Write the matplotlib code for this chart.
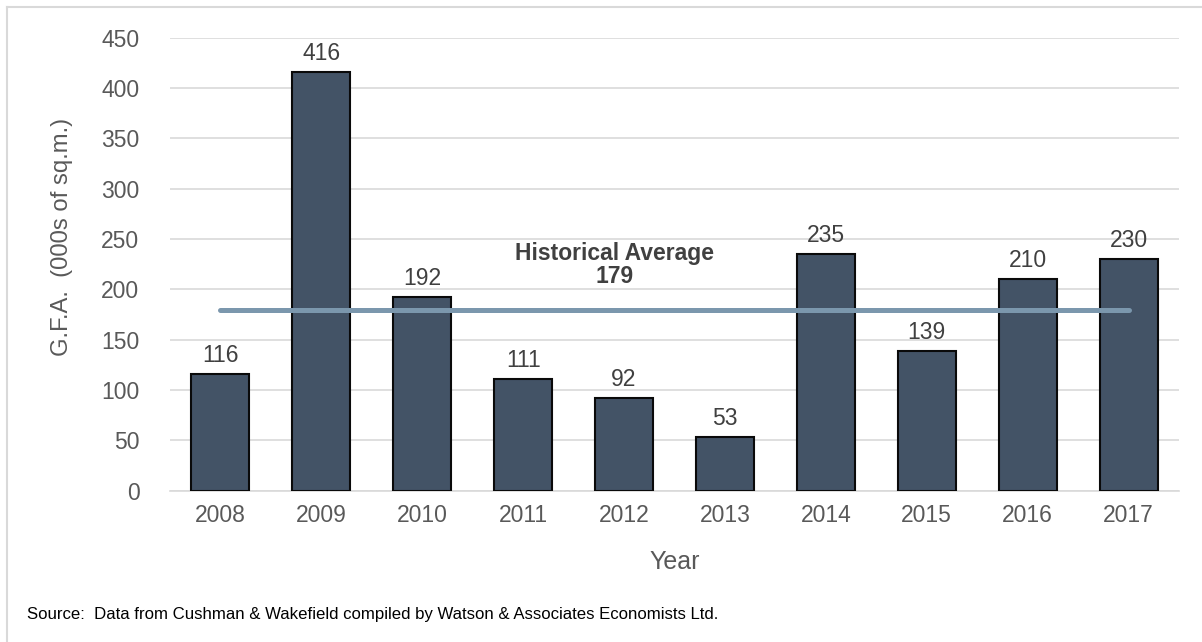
import matplotlib
matplotlib.use("Agg")
import matplotlib.pyplot as plt
from matplotlib.lines import Line2D

years = ["2008", "2009", "2010", "2011", "2012", "2013", "2014", "2015", "2016", "2017"]
values = [116, 416, 192, 111, 92, 53, 235, 139, 210, 230]
average = 179
y_ticks = [0, 50, 100, 150, 200, 250, 300, 350, 400, 450]

plt.rcParams['font.family'] = ['Liberation Sans', 'DejaVu Sans']

W, H = 1202, 642
fig = plt.figure(figsize=(W / 100, H / 100), dpi=100)
ax = fig.add_axes([170 / W, 1 - 490.5 / H, (1179 - 170) / W, (490.5 - 37.7) / H])

x = list(range(len(years)))
ax.bar(x, values, width=0.575, color="#435366", edgecolor="#0a0a0a", linewidth=1.5, zorder=3)
ax.plot([x[0], x[-1]], [average, average], color="#7B97AD", linewidth=3.6,
        solid_capstyle="round", zorder=4)

for xi, v in zip(x, values):
    ax.annotate(str(v), (xi, v), xytext=(0, 7), textcoords="offset pixels",
                ha="center", va="bottom", fontsize=16.5, color="#404040")

ax.text(3.91, 224, "Historical Average\n179", ha="center", va="center",
        fontsize=16.5, fontweight="bold", color="#404040", linespacing=1.0)

ax.set_xlim(-0.5, len(years) - 0.5)
ax.set_ylim(0, 450)
ax.set_yticks(y_ticks)
ax.set_xticks(x)
ax.set_xticklabels(years)
ax.tick_params(axis="both", length=0, labelsize=16.5, labelcolor="#595959")
ax.tick_params(axis="y", pad=22)
ax.tick_params(axis="x", pad=10)
ax.grid(axis="y", color="#D9D9D9", linewidth=1.2, zorder=0)
ax.set_axisbelow(True)
for s in ["top", "right", "left"]:
    ax.spines[s].set_visible(False)
ax.spines["bottom"].set_color("#D9D9D9")
ax.spines["bottom"].set_linewidth(1.2)

ax.set_xlabel("Year", fontsize=18, color="#595959", labelpad=16)
ax.set_ylabel("G.F.A.  (000s of sq.m.)", fontsize=17.2, color="#595959")
ax.yaxis.set_label_coords(-0.107, 0.56)
ax.yaxis.label.set_horizontalalignment("center")
ax.yaxis.label.set_verticalalignment("center")

fig.text(27 / W, 1 - 615 / H, "Source:  Data from Cushman & Wakefield compiled by Watson & Associates Economists Ltd.",
         ha="left", va="center", fontsize=12.1, color="#000000")

# outer frame
fig.add_artist(Line2D([6.5 / W, 6.5 / W], [0, 1 - 6.5 / H], transform=fig.transFigure,
                      color="#D9D9D9", linewidth=1.5))
fig.add_artist(Line2D([6.5 / W, 1], [1 - 6.5 / H, 1 - 6.5 / H], transform=fig.transFigure,
                      color="#D9D9D9", linewidth=1.5))

fig.savefig("out.png", dpi=100)
